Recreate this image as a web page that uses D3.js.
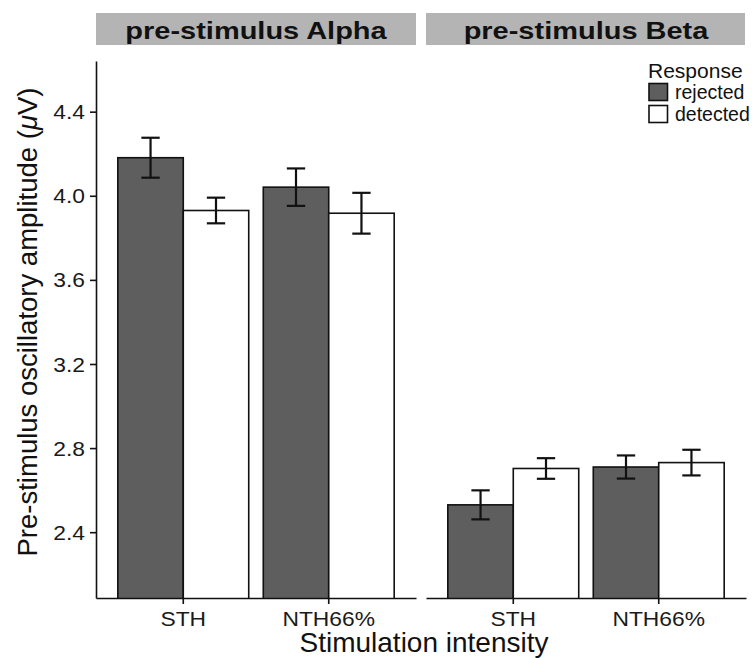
<!DOCTYPE html>
<html>
<head>
<meta charset="utf-8">
<script src="https://cdn.jsdelivr.net/npm/d3@7"></script>
<style>
  html, body { margin: 0; padding: 0; background: #fff; }
  svg { display: block; font-family: "Liberation Sans", Arial, sans-serif; }
</style>
</head>
<body>
<svg id="chart" width="752" height="658"></svg>
<script>
// Pre-stimulus amplitude by band, stimulation intensity and response
const panels = ["pre-stimulus Alpha", "pre-stimulus Beta"];
const intensities = ["STH", "NTH66%"];
const responses = ["rejected", "detected"];

// means (µV), ordered [STH, NTH66%] per response
const alphaRejected = [4.181, 4.041];
const alphaDetected = [3.930, 3.917];
const betaRejected  = [2.530, 2.710];
const betaDetected  = [2.703, 2.731];

// standard errors, same order
const alphaRejectedSE = [0.095, 0.089];
const alphaDetectedSE = [0.061, 0.097];
const betaRejectedSE  = [0.069, 0.055];
const betaDetectedSE  = [0.049, 0.061];

const yTicks = [2.4, 2.8, 3.2, 3.6, 4.0, 4.4];

const panelData = [
  { name: panels[0], rejected: alphaRejected, detected: alphaDetected, rejectedSE: alphaRejectedSE, detectedSE: alphaDetectedSE },
  { name: panels[1], rejected: betaRejected,  detected: betaDetected,  rejectedSE: betaRejectedSE,  detectedSE: betaDetectedSE }
];

const fills = { rejected: "#5e5e5e", detected: "#ffffff" };
const ink = "#111";
const stripWide = 1.26; // horizontal stretch of strip lettering
const tickWide = 1.17;  // horizontal stretch of tick lettering

const svg = d3.select("#chart");
const plotTop = 61, plotBottom = 598;
const panelX = [96, 426], panelW = 320;

const y = d3.scaleLinear().domain([2.087, 4.641]).range([plotBottom, plotTop]);

const x = d3.scaleBand().domain(intensities).range([0, panelW])
  .paddingInner(0).paddingOuter(0.1);
const xs = d3.scaleBand().domain(responses)
  .range([x.bandwidth() * 0.05, x.bandwidth() * 0.95]);

svg.append("defs").append("clipPath").attr("id", "plotclip")
  .append("rect").attr("x", 0).attr("y", plotTop).attr("width", panelW).attr("height", plotBottom - plotTop);

panelData.forEach((p, i) => {
  const g = svg.append("g").attr("transform", `translate(${panelX[i]},0)`);

  // strip
  g.append("rect").attr("x", 0).attr("y", 13).attr("width", panelW - (i === 1 ? 1 : 0)).attr("height", 32)
    .attr("fill", "#b4b4b4");
  g.append("text").attr("transform", `translate(${panelW / 2},38.5) scale(${stripWide},1)`)
    .attr("text-anchor", "middle")
    .attr("font-size", 23).attr("font-weight", "bold").attr("fill", ink).text(p.name);

  // bars
  const bars = g.append("g").attr("clip-path", "url(#plotclip)");
  intensities.forEach((cat, ci) => {
    responses.forEach(r => {
      const v = p[r][ci];
      const bx = x(cat) + xs(r);
      bars.append("rect")
        .attr("x", bx).attr("y", y(v))
        .attr("width", xs.bandwidth()).attr("height", plotBottom + 5 - y(v))
        .attr("fill", fills[r]).attr("stroke", ink).attr("stroke-width", 1.6);
    });
  });

  // error bars
  intensities.forEach((cat, ci) => {
    responses.forEach(r => {
      const v = p[r][ci], se = p[r + "SE"][ci];
      const cx = x(cat) + xs(r) + xs.bandwidth() / 2;
      const hw = xs.bandwidth() * 0.14;
      const eg = g.append("g").attr("stroke", ink).attr("stroke-width", 2.2).attr("fill", "none");
      eg.append("line").attr("x1", cx).attr("x2", cx).attr("y1", y(v + se)).attr("y2", y(v - se));
      eg.append("line").attr("x1", cx - hw).attr("x2", cx + hw).attr("y1", y(v + se)).attr("y2", y(v + se));
      eg.append("line").attr("x1", cx - hw).attr("x2", cx + hw).attr("y1", y(v - se)).attr("y2", y(v - se));
    });
  });

  // x axis
  const xAxis = g.append("g").attr("transform", `translate(0,${plotBottom})`)
    .call(d3.axisBottom(x).tickSize(6).tickSizeOuter(0));
  xAxis.select(".domain").attr("stroke", ink).attr("stroke-width", 1.6);
  xAxis.selectAll(".tick line").attr("stroke", ink).attr("stroke-width", 1.6);
  xAxis.selectAll(".tick text")
    .attr("y", 0).attr("dy", 0)
    .attr("transform", `translate(0,27.5) scale(${tickWide},1)`)
    .attr("font-size", 19.5).attr("fill", "#1a1a1a")
    .attr("font-family", "Liberation Sans, Arial, sans-serif");

  if (i === 0) {
    const yAxis = g.append("g")
      .call(d3.axisLeft(y).tickValues(yTicks).tickFormat(d3.format(".1f")).tickSize(6).tickSizeOuter(0));
    yAxis.select(".domain").attr("stroke", ink).attr("stroke-width", 1.6);
    yAxis.selectAll(".tick line").attr("stroke", ink).attr("stroke-width", 1.6);
    yAxis.selectAll(".tick text")
      .attr("x", 0).attr("dy", "0.36em")
      .attr("transform", `translate(-11,0) scale(${tickWide},1)`)
      .attr("font-size", 19.5).attr("fill", "#1a1a1a")
      .attr("font-family", "Liberation Sans, Arial, sans-serif");
  }
});

// axis titles
svg.append("text").attr("x", 424).attr("y", 651.5)
  .attr("text-anchor", "middle").attr("font-size", 28).attr("fill", ink).text("Stimulation intensity");

const yt = svg.append("text").attr("transform", `translate(37,322) rotate(-90)`)
  .attr("text-anchor", "middle").attr("font-size", 27.5).attr("fill", ink);
yt.append("tspan").text("Pre-stimulus oscillatory amplitude (");
yt.append("tspan").attr("font-style", "italic").text("\u03BC");
yt.append("tspan").text("V)");

// legend
const lg = svg.append("g").attr("transform", "translate(648,0)");
lg.append("text").attr("x", 0).attr("y", 77.5).attr("font-size", 21).attr("fill", ink).text("Response");
responses.forEach((r, k) => {
  const ky = 83.5 + k * 22;
  lg.append("rect").attr("x", 1).attr("y", ky).attr("width", 18.5).attr("height", 17)
    .attr("fill", fills[r]).attr("stroke", ink).attr("stroke-width", 1.6);
  lg.append("text").attr("x", 27).attr("y", ky + 15).attr("font-size", 19.5).attr("fill", ink).text(r);
});
</script>
</body>
</html>
